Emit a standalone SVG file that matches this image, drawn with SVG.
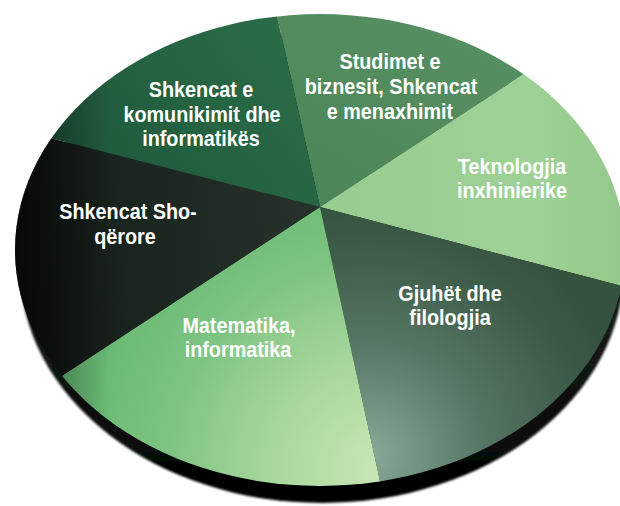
<svg xmlns="http://www.w3.org/2000/svg" width="620" height="506" viewBox="0 0 620 506">
<style>
.lbl{font-family:"Liberation Sans","Arial",sans-serif;font-weight:bold;font-size:22px;fill:#ffffff;text-anchor:middle}
</style>
<defs>
<clipPath id="face"><ellipse cx="320" cy="250" rx="305" ry="236"/></clipPath>
<filter id="soft" x="-5%" y="-5%" width="110%" height="110%"><feGaussianBlur stdDeviation="1.2"/></filter>
<linearGradient id="gSho" gradientUnits="userSpaceOnUse" x1="15" y1="250" x2="320" y2="220">
<stop offset="0" stop-color="#0c110e"/><stop offset="0.35" stop-color="#1a241f"/><stop offset="1" stop-color="#27322c"/>
</linearGradient>
<linearGradient id="gKom" gradientUnits="userSpaceOnUse" x1="60" y1="170" x2="260" y2="20">
<stop offset="0" stop-color="#1e573a"/><stop offset="1" stop-color="#2a6b47"/>
</linearGradient>
<linearGradient id="gStu" gradientUnits="userSpaceOnUse" x1="320" y1="207" x2="420" y2="20">
<stop offset="0" stop-color="#4b8659"/><stop offset="1" stop-color="#558e61"/>
</linearGradient>
<linearGradient id="gTek" gradientUnits="userSpaceOnUse" x1="330" y1="200" x2="620" y2="200">
<stop offset="0" stop-color="#98cc90"/><stop offset="0.7" stop-color="#9ed195"/><stop offset="1" stop-color="#93c98b"/>
</linearGradient>
<radialGradient id="gGju" gradientUnits="userSpaceOnUse" cx="370" cy="455" r="260">
<stop offset="0" stop-color="#88a898"/><stop offset="0.45" stop-color="#557563"/><stop offset="0.8" stop-color="#3c5b48"/><stop offset="1" stop-color="#35523f"/>
</radialGradient>
<radialGradient id="gMat" gradientUnits="userSpaceOnUse" cx="380" cy="470" r="300">
<stop offset="0" stop-color="#c9e6b5"/><stop offset="0.35" stop-color="#a9d89d"/><stop offset="0.7" stop-color="#7fc483"/><stop offset="1" stop-color="#68b974"/>
</radialGradient>
<linearGradient id="gVig" gradientUnits="userSpaceOnUse" x1="15" y1="0" x2="110" y2="0">
<stop offset="0" stop-color="#000" stop-opacity="0.5"/><stop offset="1" stop-color="#000" stop-opacity="0"/>
</linearGradient>
<linearGradient id="gRim" gradientUnits="userSpaceOnUse" x1="0" y1="300" x2="0" y2="505">
<stop offset="0" stop-color="#1a1f1c"/><stop offset="1" stop-color="#000"/>
</linearGradient>
</defs>
<rect width="620" height="506" fill="#ffffff"/>
<g id="rim"><ellipse cx="322" cy="268" rx="302" ry="235" fill="url(#gRim)" filter="url(#soft)"/></g>
<g id="pie" clip-path="url(#face)">
<g id="slice-studimet"><polygon points="320,207 191,-366 941,-198" fill="url(#gStu)"/></g>
<g id="slice-teknologjia"><polygon points="320,207 941,-198 1190,435" fill="url(#gTek)"/></g>
<g id="slice-gjuhet"><polygon points="320,207 1190,435 392,536" fill="url(#gGju)"/></g>
<g id="slice-matematika"><polygon points="320,207 392,536 -200,547" fill="url(#gMat)"/></g>
<g id="slice-shoqerore"><polygon points="320,207 -200,547 -220,69" fill="url(#gSho)"/></g>
<g id="slice-komunikimit"><polygon points="320,207 -220,69 191,-366" fill="url(#gKom)"/></g>
<rect x="0" y="0" width="120" height="506" fill="url(#gVig)"/>
</g>
<g id="labels">
<g id="lbl-komunikimit">
<text class="lbl" transform="translate(201,97) scale(0.9,1)">Shkencat e</text>
<text class="lbl" transform="translate(202,122) scale(0.9,1)">komunikimit dhe</text>
<text class="lbl" transform="translate(201,146) scale(0.9,1)">informatikës</text>
</g>
<g id="lbl-studimet">
<text class="lbl" transform="translate(390,69) scale(0.9,1)">Studimet e</text>
<text class="lbl" transform="translate(391,94) scale(0.9,1)">biznesit, Shkencat</text>
<text class="lbl" transform="translate(390,119) scale(0.9,1)">e menaxhimit</text>
</g>
<g id="lbl-teknologjia">
<text class="lbl" transform="translate(512,174) scale(0.9,1)">Teknologjia</text>
<text class="lbl" transform="translate(512,198) scale(0.9,1)">inxhinierike</text>
</g>
<g id="lbl-shoqerore">
<text class="lbl" transform="translate(128,219) scale(0.9,1)">Shkencat Sho-</text>
<text class="lbl" transform="translate(125,244) scale(0.9,1)">qërore</text>
</g>
<g id="lbl-matematika">
<text class="lbl" transform="translate(239,333) scale(0.9,1)">Matematika,</text>
<text class="lbl" transform="translate(238,357) scale(0.9,1)">informatika</text>
</g>
<g id="lbl-gjuhet">
<text class="lbl" transform="translate(450,301) scale(0.9,1)">Gjuhët dhe</text>
<text class="lbl" transform="translate(450,325) scale(0.9,1)">filologjia</text>
</g>
</g>
</svg>
